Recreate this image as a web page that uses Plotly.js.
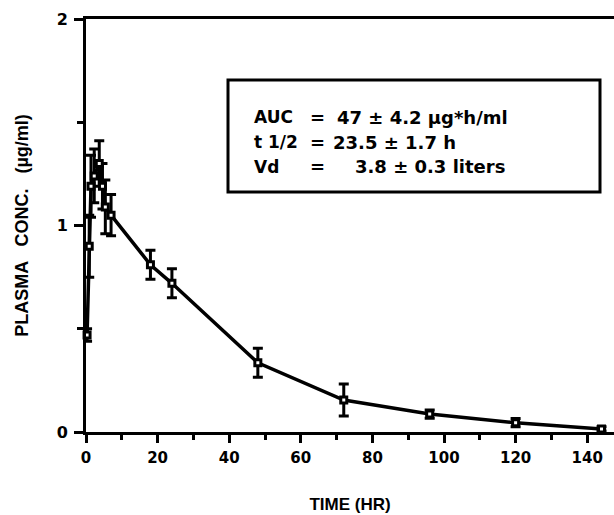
<!DOCTYPE html>
<html>
<head>
<meta charset="utf-8">
<script src="https://cdn.plot.ly/plotly-3.0.1.min.js"></script>
<style>html,body{margin:0;padding:0;background:#fff;}#chart{width:614px;height:515px;}</style>
</head>
<body>
<div id="chart"></div>
<script>
// Time after dose (hr)
const timeHr = [0.3, 0.9, 1.4, 2.3, 3.7, 4.6, 5.4, 7, 18, 24, 48, 72, 96, 120, 144];
// Mean plasma concentration (ug/ml)
const concMean = [0.47, 0.90, 1.19, 1.24, 1.30, 1.19, 1.09, 1.05, 0.81, 0.72, 0.335, 0.155, 0.087, 0.045, 0.015];
// Error (+/-)
const concErr = [0.03, 0.15, 0.15, 0.13, 0.11, 0.11, 0.13, 0.10, 0.07, 0.07, 0.07, 0.077, 0.02, 0.02, 0.01];

const xTickVals = [0, 20, 40, 60, 80, 100, 120, 140];
const xTickText = ["0", "20", "40", "60", "80", "100", "120", "140"];
const yTickVals = [0, 1, 2];
const yTickText = ["0", "1", "2"];

const boxLabels = ["AUC", "t 1/2", "Vd"];
const boxValues = ["47 \u00b1 4.2 \u00b5g*h/ml", "23.5 \u00b1 1.7 h", "3.8 \u00b1 0.3 liters"];

const SANS = "Liberation Sans, Arial, Helvetica, sans-serif";
const WIDE = "DejaVu Sans, Verdana, sans-serif";

const trace = {
  x: timeHr,
  y: concMean,
  type: "scatter",
  mode: "lines+markers",
  line: {color: "#000", width: 3.5},
  marker: {symbol: "square", size: 6, color: "#fff", line: {color: "#000", width: 3}},
  error_y: {type: "data", array: concErr, visible: true, color: "#000", thickness: 3, width: 5},
  cliponaxis: false,
  hoverinfo: "skip"
};

// Plot area geometry (paper -> pixels)
const W = 614, H = 515, ML = 86, MR = 0, MT = 19, MB = 83;
const PW = W - ML - MR, PH = H - MT - MB;
const px = x => (x - ML) / PW;
const py = y => (H - MB - y) / PH;

const annotations = [];
const lineY = [117, 142, 167];
const valX = [335, 331, 353];
const lf = {family: WIDE, size: 17, color: "#000"};
const bf = {family: WIDE, size: 18, color: "#000"};
for (let i = 0; i < boxLabels.length; i++) {
  annotations.push({xref: "paper", yref: "paper", x: px(252), y: py(lineY[i]), xanchor: "left", yanchor: "middle",
    text: "<b>" + boxLabels[i] + "</b>", showarrow: false, font: lf});
  annotations.push({xref: "paper", yref: "paper", x: px(317), y: py(lineY[i]), xanchor: "center", yanchor: "middle",
    text: "<b>=</b>", showarrow: false, font: bf});
  annotations.push({xref: "paper", yref: "paper", x: px(valX[i]), y: py(lineY[i]), xanchor: "left", yanchor: "middle",
    text: "<b>" + boxValues[i] + "</b>", showarrow: false, font: bf});
}

const layout = {
  width: W, height: H,
  margin: {l: ML, r: MR, t: MT, b: MB, pad: 0},
  paper_bgcolor: "#fff", plot_bgcolor: "#fff",
  showlegend: false,
  font: {family: SANS, color: "#000"},
  xaxis: {
    range: [0, PW / 3.58],
    tickvals: xTickVals,
    ticktext: xTickText.map(t => "<b>" + t + "</b>"),
    ticks: "outside", ticklen: 8, tickwidth: 3, tickcolor: "#000",
    minor: {dtick: 10, tick0: 0, ticks: "outside", ticklen: 5, tickwidth: 3, tickcolor: "#000"},
    showgrid: false, zeroline: false,
    showline: true, linecolor: "#000", linewidth: 3, mirror: true,
    tickfont: {family: WIDE, size: 15, color: "#000"},
    ticklabelstandoff: 2,
    title: {text: "<b>TIME (HR)</b>", font: {family: SANS, size: 17, color: "#000"}, standoff: 33}
  },
  yaxis: {
    range: [0, 2],
    tickvals: yTickVals,
    ticktext: yTickText.map(t => "<b>" + t + "</b>"),
    ticks: "outside", ticklen: 9, tickwidth: 3, tickcolor: "#000",
    minor: {dtick: 0.5, tick0: 0, ticks: "outside", ticklen: 6, tickwidth: 3, tickcolor: "#000"},
    showgrid: false, zeroline: false,
    showline: true, linecolor: "#000", linewidth: 3,
    tickfont: {family: WIDE, size: 16, color: "#000"},
    ticklabelstandoff: 3,
    title: {text: "<b>PLASMA   CONC.   (\u00b5g/ml)</b>", font: {family: SANS, size: 18, color: "#000"}, standoff: 24}
  },
  shapes: [{type: "rect", xref: "paper", yref: "paper", x0: px(228), x1: px(600), y0: py(192), y1: py(80),
    line: {color: "#000", width: 3}, fillcolor: "rgba(0,0,0,0)"}],
  annotations: annotations
};

Plotly.newPlot("chart", [trace], layout, {displayModeBar: false, staticPlot: true});
</script>
</body>
</html>
